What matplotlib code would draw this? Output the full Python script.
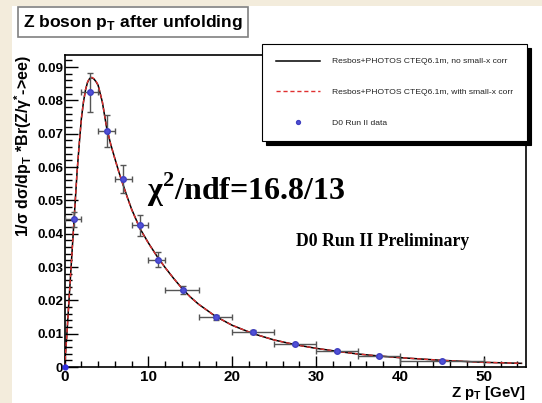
import matplotlib
matplotlib.use("Agg")
import matplotlib.pyplot as plt
from matplotlib.patches import Rectangle
from matplotlib.ticker import MultipleLocator, FixedFormatter, FixedLocator
import numpy as np

plt.rcParams['font.family'] = ['Liberation Sans', 'DejaVu Sans']

# D0 data points (Z pT bins)
bin_lo = [0, 2, 4, 6, 8, 10, 12, 16, 20, 25, 30, 35, 40]
bin_hi = [2, 4, 6, 8, 10, 12, 16, 20, 25, 30, 35, 40, 50]
pt_x = [1.1, 3.0, 5.1, 7.0, 9.05, 11.15, 14.1, 18.1, 22.5, 27.5, 32.5, 37.5, 45.0]
pt_y = [0.0443, 0.0824, 0.0708, 0.0564, 0.0425, 0.0322, 0.0231, 0.0149,
        0.0105, 0.0069, 0.0048, 0.0034, 0.0019]
pt_err = [0.0022, 0.0058, 0.0048, 0.0042, 0.0031, 0.0023, 0.0011, 0.0008,
          0.0006, 0.0004, 0.0003, 0.0003, 0.0002]

# Resbos predictions
curve_x = [0, 0.25, 0.5, 0.75, 1.0, 1.25, 1.5, 1.75, 2.0, 2.25, 2.5, 2.75, 3.0,
           3.25, 3.5, 3.75, 4.0, 4.5, 5.0, 5.5, 6.0, 6.5, 7.0, 7.5, 8.0, 9.0,
           10, 11, 12, 13, 14, 15, 16, 18, 20, 22.5, 25, 27.5, 30, 32.5, 35,
           37.5, 40, 45, 50, 54.5]
resbos_nocorr = [0.0, 0.009, 0.019, 0.029, 0.039, 0.049, 0.059, 0.067, 0.0745,
                 0.0795, 0.0832, 0.0855, 0.0866, 0.0868, 0.0864, 0.0856, 0.0845,
                 0.0795, 0.0720, 0.0668, 0.0625, 0.0583, 0.0545, 0.0508, 0.0473,
                 0.0415, 0.0372, 0.0333, 0.0298, 0.0266, 0.0236, 0.0210, 0.0188,
                 0.0152, 0.0125, 0.0100, 0.0081, 0.0067, 0.0056, 0.0047, 0.0039,
                 0.0033, 0.0028, 0.0020, 0.0014, 0.0011]
resbos_corr = [0.0, 0.009, 0.019, 0.029, 0.039, 0.049, 0.059, 0.067, 0.0745,
               0.0795, 0.0832, 0.0856, 0.0867, 0.0869, 0.0865, 0.0857, 0.0846,
               0.0796, 0.0721, 0.0668, 0.0624, 0.0582, 0.0544, 0.0507, 0.0472,
               0.0414, 0.0371, 0.0333, 0.0298, 0.0266, 0.0236, 0.0210, 0.0188,
               0.0152, 0.0125, 0.0100, 0.0081, 0.0067, 0.0056, 0.0047, 0.0039,
               0.0033, 0.0028, 0.0020, 0.0014, 0.0011]

legend_labels = ["Resbos+PHOTOS CTEQ6.1m, no small-x corr",
                 "Resbos+PHOTOS CTEQ6.1m, with small-x corr",
                 "D0 Run II data"]

fig = plt.figure(figsize=(5.42, 4.03), dpi=100)
fig.patch.set_facecolor('white')
# slide background showing at the edges
fig.patches.append(Rectangle((0, 0), 12 / 542, 1, transform=fig.transFigure,
                             facecolor='#f3ecdc', edgecolor='none', zorder=-5))
fig.patches.append(Rectangle((0, 1 - 6 / 403), 1, 6 / 403, transform=fig.transFigure,
                             facecolor='#f3ecdc', edgecolor='none', zorder=-5))

ax = fig.add_axes([64.6 / 542, 1 - 367 / 403, (525.7 - 64.6) / 542, (367 - 55) / 403])

l1, = ax.plot(curve_x, resbos_nocorr, color='black', lw=1.1, zorder=3)
l2, = ax.plot(curve_x, resbos_corr, color='#e03030', lw=1.0, ls=(0, (3, 2)), zorder=4)

xerr = [np.array(pt_x) - np.array(bin_lo), np.array(bin_hi) - np.array(pt_x)]
ax.errorbar(pt_x, pt_y, yerr=pt_err, xerr=xerr, fmt='none', ecolor='#555555',
            elinewidth=1.0, capsize=2, capthick=1.0, zorder=5)
pts, = ax.plot(pt_x, pt_y, 'o', color='#5050d8', ms=4, mec='#4040c0', zorder=6)
ax.plot([0], [0], 'o', color='#3030e0', ms=3.5, clip_on=False, zorder=7)

ax.set_xlim(0, 55)
ax.set_ylim(0, 0.0936)
ax.xaxis.set_major_locator(MultipleLocator(10))
ax.xaxis.set_minor_locator(MultipleLocator(2))
yt = [0, 0.01, 0.02, 0.03, 0.04, 0.05, 0.06, 0.07, 0.08, 0.09]
ax.yaxis.set_major_locator(FixedLocator(yt))
ax.yaxis.set_major_formatter(FixedFormatter(['0'] + ['%.2f' % v for v in yt[1:]]))
ax.yaxis.set_minor_locator(MultipleLocator(0.002))
ax.tick_params(axis='both', which='both', direction='in', top=False, right=False,
               width=1.0, colors='black')
ax.tick_params(axis='y', which='major', length=9, pad=1, labelsize=9.6)
ax.tick_params(axis='y', which='minor', length=5)
ax.tick_params(axis='x', which='major', length=8, pad=2, labelsize=11)
ax.tick_params(axis='x', which='minor', length=4)
for lab in ax.get_xticklabels() + ax.get_yticklabels():
    lab.set_fontweight('bold')
for s in ax.spines.values():
    s.set_linewidth(1.2)

fig.text(23 / 542, 1 - 146 / 403,
         "1/σ dσ/dp$_\\mathregular{T}$ *Br(Z/γ$^\\mathregular{*}$->ee)",
         rotation=90, ha='center', va='center', fontsize=11.5, fontweight='bold')
fig.text(526 / 542, 1 - 397 / 403, "Z p$_\\mathregular{T}$ [GeV]", ha='right',
         va='baseline', fontsize=10.8, fontweight='bold')

fig.text(246 / 542, 1 - 190 / 403, "χ$^\\mathregular{2}$/ndf=16.8/13",
         ha='center', va='center', fontsize=23, fontweight='bold',
         family=['Liberation Serif', 'DejaVu Serif'])
fig.text(383 / 542, 1 - 241 / 403, "D0 Run II Preliminary", ha='center',
         va='center', fontsize=12.8, fontweight='bold',
         family=['Liberation Serif', 'DejaVu Serif'])

fig.text(23 / 542, 1 - 22 / 403, "Z boson p$_\\mathregular{T}$ after unfolding",
         ha='left', va='center', fontsize=12.6, fontweight='bold',
         bbox=dict(boxstyle='square,pad=0.3', facecolor='white', edgecolor='#808080', lw=1.2))

leg = ax.legend([l1, l2, pts], legend_labels, loc='upper left',
                bbox_to_anchor=(262 / 542, 1 - 148 / 403, 265 / 542, 104 / 403),
                bbox_transform=fig.transFigure, mode='expand', fontsize=6.1,
                frameon=True, fancybox=False, edgecolor='black', framealpha=1,
                handlelength=5.3, handletextpad=1.4, labelspacing=2.7, borderpad=1.6,
                borderaxespad=0, markerscale=0.7,
                shadow={'color': 'black', 'alpha': 1, 'ox': 3, 'oy': -3})
leg.get_frame().set_linewidth(0.8)
for t in leg.get_texts():
    t.set_color('#222222')

fig.savefig("out.png", dpi=100)
